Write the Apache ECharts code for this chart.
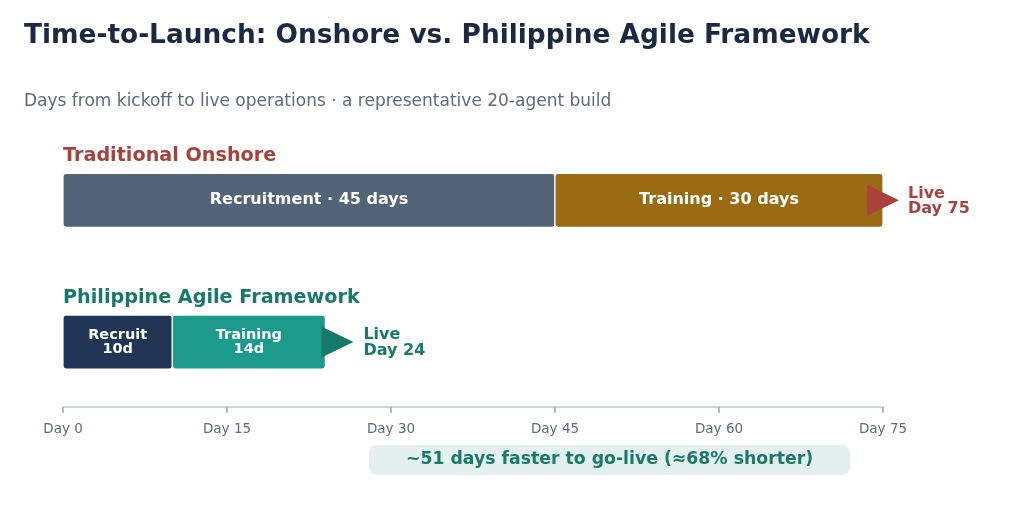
<!DOCTYPE html>
<html>
<head>
<meta charset="utf-8">
<script src="https://cdn.jsdelivr.net/npm/echarts@6/dist/echarts.min.js"></script>
<style>html,body{margin:0;padding:0;background:#fff;}#c{width:1024px;height:526px;}</style>
</head>
<body>
<div id="c"></div>
<script>
// ---- data ----
const rowNames = ['Traditional Onshore', 'Philippine Agile Framework'];
const rowY = [3.18, 1];
const phaseLabels = ['Recruitment · 45 days', 'Training · 30 days', 'Recruit\n10d', 'Training\n14d'];
const phaseStart = [0, 45, 0, 10];
const phaseDays = [45, 30, 10, 14];
const phaseRow = [0, 0, 1, 1];
const liveDay = [75, 24];
const markerDay = [75, 25.1];
const liveLabels = ['Live\nDay 75', 'Live\nDay 24'];
const tickDays = [0, 15, 30, 45, 60, 75];
const savingText = '~51 days faster to go-live (≈68% shorter)';

// ---- styles ----
const FONT = 'DejaVu Sans';
const phaseColors = ['#536479', '#9a6b12', '#213556', '#1c9b8c'];
const phaseFont = ['bold 16px "DejaVu Sans"', 'bold 16px "DejaVu Sans"', 'bold 14.5px "DejaVu Sans"', 'bold 14.5px "DejaVu Sans"'];
const rowColors = ['#a8433c', '#187a6a'];
const markerColors = ['#a8433c', '#177a68'];

const segData = phaseStart.map((s, i) => [s, s + phaseDays[i], rowY[phaseRow[i]], i]);

const chart = echarts.init(document.getElementById('c'), null, {renderer: 'canvas'});
chart.setOption({
  animation: false,
  backgroundColor: '#ffffff',
  textStyle: {fontFamily: FONT},
  title: [
    {text: 'Time-to-Launch: Onshore vs. Philippine Agile Framework', left: 19, top: 18,
     textStyle: {fontFamily: FONT, fontSize: 26.4, fontWeight: 'bold', color: '#1b2a44'}},
    {text: 'Days from kickoff to live operations · a representative 20-agent build', left: 19, top: 88,
     textStyle: {fontFamily: FONT, fontSize: 17, fontWeight: 'normal', color: '#5a6b82'}},
    {text: rowNames[0], left: 58, top: 142,
     textStyle: {fontFamily: FONT, fontSize: 19.2, fontWeight: 'bold', color: rowColors[0]}},
    {text: rowNames[1], left: 58, top: 284,
     textStyle: {fontFamily: FONT, fontSize: 19.2, fontWeight: 'bold', color: rowColors[1]}}
  ],
  grid: {left: 63, right: 141, top: 147, bottom: 119},
  xAxis: {
    type: 'value', min: 0, max: 75, interval: 15,
    axisLine: {show: true, lineStyle: {color: '#cbd5df', width: 2}},
    axisTick: {show: true, length: 6, lineStyle: {color: '#9aa6b4', width: 1.5}},
    axisLabel: {formatter: v => tickDays.includes(v) ? 'Day ' + v : '', color: '#5a6b82', fontSize: 13.5, margin: 15, fontFamily: FONT},
    splitLine: {show: false}
  },
  yAxis: {type: 'value', min: 0, max: 4, show: false},
  series: [
    {
      type: 'custom',
      data: segData,
      encode: {x: [0, 1], y: 2},
      renderItem: function (params, api) {
        const a = api.coord([api.value(0), api.value(2)]);
        const b = api.coord([api.value(1), api.value(2)]);
        const h = api.size([0, 0.83])[1];
        const i = api.value(3);
        return {
          type: 'rect',
          shape: {x: a[0], y: a[1] - h / 2, width: b[0] - a[0], height: h, r: 3},
          style: {fill: phaseColors[i], stroke: '#ffffff', lineWidth: 1.2},
          textContent: {
            style: {text: phaseLabels[i], fill: '#ffffff', font: phaseFont[i], lineHeight: 14.5, align: 'center'}
          },
          textConfig: {position: 'inside'}
        };
      }
    },
    {
      type: 'scatter',
      symbol: 'triangle',
      symbolRotate: -90,
      symbolSize: [31, 32],
      itemStyle: {opacity: 1},
      data: markerDay.map((d, i) => ({
        value: [d, rowY[i]],
        itemStyle: {color: markerColors[i], opacity: 1},
        label: {
          show: true, position: 'right', distance: 9 + (i === 1 ? 1 : 0),
          formatter: liveLabels[i], color: rowColors[i], fontSize: 16, fontWeight: 'bold',
          lineHeight: 15.5, fontFamily: FONT, align: 'left', opacity: 1, offset: [0, 1]
        }
      })),
      z: 5
    }
  ],
  graphic: [
    {type: 'rect', left: 369, top: 445, shape: {width: 481, height: 30, r: 8}, style: {fill: '#e3f0ee'}, z: 1},
    {type: 'text', x: 609.5, y: 460, style: {text: savingText, font: 'bold 17.3px "DejaVu Sans"', fill: '#187a6a', align: 'center', verticalAlign: 'middle'}, z: 2}
  ]
});
</script>
</body>
</html>
